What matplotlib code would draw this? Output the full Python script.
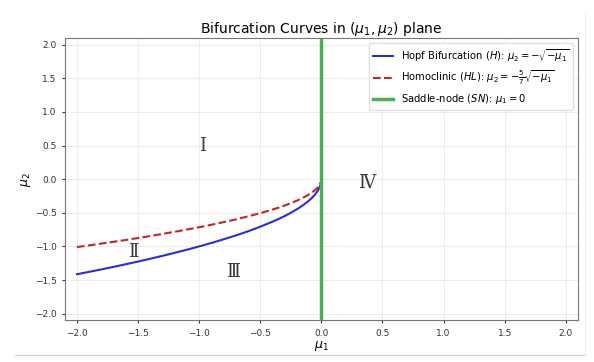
import matplotlib
matplotlib.use("Agg")
import matplotlib.pyplot as plt
from matplotlib.lines import Line2D

# Curve values
mu1 = [-2.0, -1.9, -1.8, -1.7, -1.6, -1.5, -1.4, -1.3, -1.2, -1.1, -1.0, -0.9,
       -0.8, -0.7, -0.6, -0.5, -0.4, -0.35, -0.3, -0.25, -0.2, -0.15, -0.12,
       -0.1, -0.08, -0.06, -0.045, -0.03, -0.02, -0.01, -0.005, -0.003]
hopf = [-1.414, -1.378, -1.342, -1.304, -1.265, -1.225, -1.183, -1.140, -1.095,
        -1.049, -1.000, -0.949, -0.894, -0.837, -0.775, -0.707, -0.632, -0.592,
        -0.548, -0.500, -0.447, -0.387, -0.346, -0.316, -0.283, -0.245, -0.212,
        -0.173, -0.141, -0.100, -0.071, -0.055]
homoclinic = [-1.010, -0.984, -0.958, -0.931, -0.904, -0.875, -0.845, -0.814,
              -0.782, -0.749, -0.714, -0.678, -0.639, -0.598, -0.553, -0.505,
              -0.452, -0.423, -0.391, -0.357, -0.319, -0.276, -0.247, -0.226,
              -0.202, -0.175, -0.152, -0.124, -0.101, -0.071, -0.051, -0.039]
sn_mu1 = [0.0, 0.0]
sn_mu2 = [-2.1, 2.1]

regions = ["Ⅰ", "Ⅱ", "Ⅲ", "Ⅳ"]
region_pos = [(-0.97, 0.5), (-1.54, -1.08), (-0.72, -1.38), (0.37, -0.06)]

fig = plt.figure(figsize=(5.94, 3.62), dpi=100)
ax = fig.add_axes([0.109, 0.115, 0.864, 0.78])

ax.plot(mu1, hopf, color="#2a2fd0", lw=1.5,
        label=r"Hopf Bifurcation $(H)$: $\mu_2 = -\sqrt{-\mu_1}$")
ax.plot(mu1, homoclinic, color="#c0262b", lw=1.5, ls="--",
        label=r"Homoclinic $(HL)$: $\mu_2 = -\frac{5}{7}\sqrt{-\mu_1}$")
ax.plot(sn_mu1, sn_mu2, color="#4caf50", lw=2.5,
        label=r"Saddle-node $(SN)$: $\mu_1 = 0$")

for txt, (x, y) in zip(regions, region_pos):
    ax.text(x, y, txt, fontsize=13, family="DejaVu Serif", color="#3a3a3a",
            ha="center", va="center")

ax.set_xlim(-2.1, 2.1)
ax.set_ylim(-2.1, 2.1)
ax.set_xticks([-2.0, -1.5, -1.0, -0.5, 0.0, 0.5, 1.0, 1.5, 2.0])
ax.set_yticks([-2.0, -1.5, -1.0, -0.5, 0.0, 0.5, 1.0, 1.5, 2.0])
ax.tick_params(labelsize=6.5, length=2.5, colors="#333333")
for s in ax.spines.values():
    s.set_color("#777777")
    s.set_linewidth(0.8)
ax.grid(True, color="#e4e4e4", lw=0.5)

ax.set_xlabel(r"$\mu_1$", fontsize=9, labelpad=1)
ax.set_ylabel(r"$\mu_2$", fontsize=9, labelpad=1)
ax.set_title(r"Bifurcation Curves in $(\mu_1, \mu_2)$ plane", fontsize=10, pad=3)

ax.legend(loc="upper right", fontsize=7.2, framealpha=0.9, edgecolor="#dddddd")

# screenshot border
fig.add_artist(Line2D([0.025, 0.985], [0.02, 0.02], color="#cccccc", lw=0.8))
fig.add_artist(Line2D([0.985, 0.985], [0.02, 0.96], color="#eeeeee", lw=0.8))

fig.savefig("out.png", dpi=100)
